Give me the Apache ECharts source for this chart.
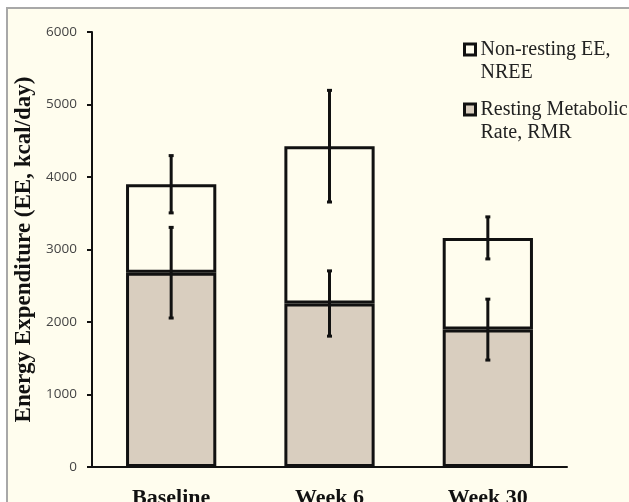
<!DOCTYPE html>
<html>
<head>
<meta charset="utf-8">
<style>
  html, body { margin: 0; padding: 0; background: #ffffff; }
  #chart { width: 629px; height: 502px; }
</style>
<script src="https://cdn.jsdelivr.net/npm/echarts@6/dist/echarts.min.js"></script>
</head>
<body>
<div id="chart"></div>
<script>
var categories = ['Baseline', 'Week 6', 'Week 30'];
var rmr = [2680, 2255, 1895];        // Resting Metabolic Rate
var nree = [1220, 2170, 1265];       // Non-resting EE, stacked on top
var rmrErr = [625, 450, 420];
var totalErr = [395, 770, 290];
var yTicks = [0, 1000, 2000, 3000, 4000, 5000, 6000];

var chart = echarts.init(document.getElementById('chart'), null, { renderer: 'canvas' });

// error bar data: [category index, centre, half width]
var rmrBars = categories.map(function (c, i) { return [i, rmr[i], rmrErr[i]]; });
var totalBars = categories.map(function (c, i) { return [i, rmr[i] + nree[i], totalErr[i]]; });

function renderErr(params, api) {
  var x = api.value(0);
  var c = api.value(1);
  var e = api.value(2);
  var top = api.coord([x, c + e]);
  var bot = api.coord([x, c - e]);
  var cap = 2.5;
  var style = { stroke: '#111', lineWidth: 3 };
  return {
    type: 'group',
    children: [
      { type: 'line', shape: { x1: top[0], y1: top[1], x2: bot[0], y2: bot[1] }, style: style },
      { type: 'line', shape: { x1: top[0] - cap, y1: top[1], x2: top[0] + cap, y2: top[1] }, style: style },
      { type: 'line', shape: { x1: bot[0] - cap, y1: bot[1], x2: bot[0] + cap, y2: bot[1] }, style: style }
    ]
  };
}

// leading blank line keeps the legend square level with the first text line
var nreeName = '\nNon-resting EE,\nNREE';
var rmrName = '\nResting Metabolic\nRate, RMR';

var option = {
  backgroundColor: '#ffffff',
  animation: false,
  graphic: [{
    type: 'rect',
    z: -10,
    silent: true,
    shape: { x: 7, y: 8, width: 700, height: 600 },
    style: { fill: '#fffdee', stroke: '#a8a8a8', lineWidth: 2 }
  }],
  grid: { left: 92, right: 62, top: 32, bottom: 35, outerBoundsMode: 'none' },
  legend: {
    orient: 'vertical',
    left: 463,
    top: 15,
    padding: 0,
    icon: 'rect',
    itemWidth: 11,
    itemHeight: 11,
    itemGap: -9,
    itemStyle: { borderColor: '#111', borderWidth: 3 },
    data: [nreeName, rmrName],
    textStyle: {
      fontFamily: 'Liberation Serif',
      fontSize: 20,
      color: '#222',
      lineHeight: 23
    }
  },
  xAxis: {
    type: 'category',
    data: categories,
    axisLine: { lineStyle: { color: '#111', width: 2 } },
    axisTick: { show: false },
    axisLabel: {
      margin: 20,
      fontFamily: 'Liberation Serif',
      fontWeight: 'bold',
      fontSize: 22,
      color: '#111'
    }
  },
  yAxis: {
    type: 'value',
    min: 0,
    max: 6000,
    interval: 1000,
    name: 'Energy Expenditure (EE, kcal/day)',
    nameLocation: 'middle',
    nameGap: 56,
    nameTextStyle: {
      fontFamily: 'Liberation Serif',
      fontWeight: 'bold',
      fontSize: 23,
      color: '#111'
    },
    splitLine: { show: false },
    axisLine: { show: true, lineStyle: { color: '#111', width: 2 } },
    axisTick: { show: true, length: 5, lineStyle: { color: '#111', width: 2 } },
    axisLabel: {
      margin: 15,
      fontFamily: 'Open Sans',
      fontSize: 13.5,
      color: '#444',
      formatter: function (v) { return yTicks.indexOf(v) >= 0 ? String(v) : ''; }
    }
  },
  series: [
    {
      name: rmrName,
      type: 'bar',
      stack: 'ee',
      barWidth: '57%',
      z: 3,
      data: rmr,
      itemStyle: { color: '#d9cebf', borderColor: '#111', borderWidth: 3 }
    },
    {
      name: nreeName,
      type: 'bar',
      stack: 'ee',
      barWidth: '57%',
      z: 2,
      data: nree,
      itemStyle: { color: '#fffdee', borderColor: '#111', borderWidth: 3 }
    },
    {
      type: 'custom',
      renderItem: renderErr,
      data: rmrBars,
      z: 5
    },
    {
      type: 'custom',
      renderItem: renderErr,
      data: totalBars,
      z: 5
    }
  ]
};

chart.setOption(option);
</script>
</body>
</html>
